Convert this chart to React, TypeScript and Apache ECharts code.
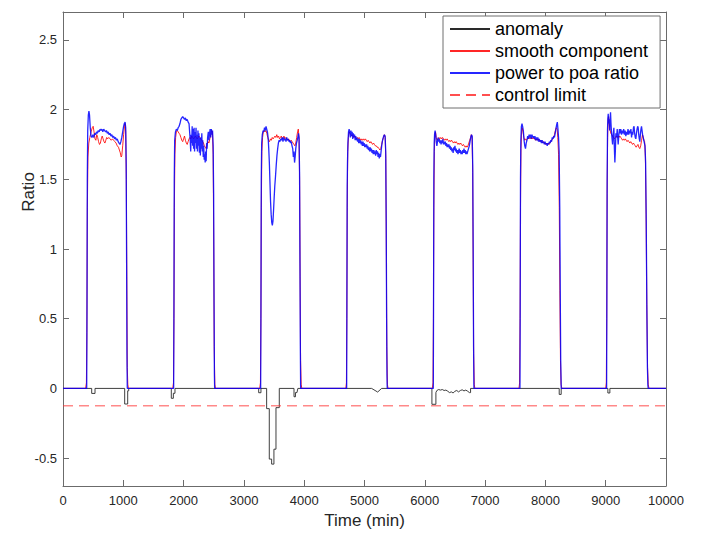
import React, { useEffect, useRef } from "react";
import * as echarts from "echarts";

type P = [number, number];

const FONT = "'Liberation Sans', Arial, Helvetica, sans-serif";

const seriesNames = ["anomaly", "smooth component", "power to poa ratio", "control limit"];
const yTickValues = [-0.5, 0, 0.5, 1, 1.5, 2, 2.5];
const xTickStep = 1000;
const xRange = [0, 10000];
const yRange = [-0.7, 2.7];
const controlLimitValue = -0.125;

// power to poa ratio (blue), one array per daytime block
const ratioDay1: P[] = [[393,0],[398,0.6],[403,1.5],[410,1.85],[420,1.96],[430,1.99],[440,1.96],[452,1.87],[465,1.81],[480,1.80],[495,1.82],[510,1.80],[525,1.83],[540,1.82],[555,1.84],[570,1.83],[585,1.85],[600,1.84],[615,1.86],[630,1.85],[645,1.86],[660,1.84],[675,1.86],[690,1.85],[705,1.84],[720,1.85],[735,1.83],[750,1.84],[765,1.82],[780,1.83],[795,1.81],[810,1.82],[825,1.80],[840,1.81],[855,1.79],[870,1.80],[885,1.78],[900,1.79],[915,1.77],[930,1.76],[945,1.75],[960,1.77],[975,1.80],[990,1.84],[1005,1.88],[1017,1.90],[1030,1.91],[1040,1.87],[1048,1.60],[1055,0.9],[1061,0.25],[1066,0]];
const ratioDay2: P[] = [[1835,0],[1840,0.6],[1845,1.5],[1852,1.78],[1865,1.84],[1880,1.86],[1895,1.85],[1910,1.87],[1925,1.88],[1940,1.90],[1955,1.93],[1970,1.94],[1985,1.95],[2000,1.94],[2015,1.93],[2030,1.94],[2045,1.92],[2060,1.93],[2075,1.91],[2090,1.90],[2100,1.84],[2110,1.78],[2118,1.70],[2126,1.82],[2134,1.76],[2142,1.88],[2150,1.74],[2158,1.86],[2166,1.72],[2174,1.87],[2182,1.70],[2190,1.84],[2198,1.76],[2206,1.87],[2214,1.72],[2222,1.82],[2230,1.70],[2238,1.85],[2246,1.74],[2254,1.83],[2262,1.69],[2270,1.80],[2278,1.67],[2286,1.80],[2294,1.72],[2302,1.83],[2310,1.70],[2318,1.78],[2326,1.66],[2334,1.74],[2342,1.64],[2350,1.68],[2358,1.62],[2366,1.70],[2374,1.63],[2382,1.76],[2390,1.72],[2398,1.80],[2410,1.84],[2420,1.78],[2430,1.83],[2440,1.86],[2450,1.80],[2460,1.86],[2470,1.82],[2480,1.85],[2490,1.74],[2498,1.40],[2505,0.6],[2511,0.1],[2515,0]];
const ratioDay3: P[] = [[3278,0],[3283,0.6],[3288,1.5],[3295,1.76],[3305,1.82],[3318,1.85],[3330,1.84],[3342,1.87],[3355,1.85],[3367,1.88],[3378,1.86],[3390,1.84],[3402,1.80],[3412,1.72],[3422,1.62],[3432,1.48],[3442,1.34],[3452,1.25],[3462,1.19],[3472,1.17],[3482,1.20],[3492,1.28],[3502,1.37],[3512,1.45],[3524,1.52],[3536,1.60],[3548,1.67],[3560,1.72],[3572,1.76],[3585,1.78],[3597,1.77],[3610,1.79],[3622,1.78],[3635,1.80],[3648,1.77],[3660,1.80],[3672,1.78],[3685,1.79],[3698,1.77],[3710,1.80],[3722,1.78],[3735,1.79],[3748,1.77],[3760,1.78],[3772,1.76],[3785,1.77],[3798,1.74],[3810,1.72],[3820,1.66],[3830,1.70],[3840,1.62],[3850,1.66],[3860,1.72],[3872,1.76],[3884,1.78],[3895,1.80],[3905,1.83],[3915,1.80],[3923,1.55],[3930,0.9],[3936,0.3],[3941,0]];
const ratioDay4: P[] = [[4704,0],[4708,0.6],[4713,1.45],[4718,1.62],[4725,1.76],[4735,1.84],[4745,1.86],[4755,1.84],[4765,1.80],[4775,1.85],[4785,1.81],[4795,1.84],[4805,1.79],[4815,1.83],[4825,1.80],[4835,1.82],[4845,1.78],[4855,1.81],[4865,1.78],[4875,1.80],[4885,1.77],[4895,1.79],[4905,1.76],[4915,1.79],[4925,1.76],[4935,1.78],[4945,1.75],[4955,1.77],[4965,1.74],[4975,1.77],[4985,1.74],[4995,1.76],[5005,1.73],[5015,1.75],[5025,1.73],[5035,1.75],[5045,1.72],[5055,1.74],[5065,1.71],[5075,1.73],[5085,1.70],[5095,1.73],[5105,1.70],[5115,1.72],[5125,1.69],[5135,1.71],[5145,1.68],[5155,1.71],[5165,1.68],[5175,1.70],[5185,1.67],[5195,1.71],[5205,1.68],[5215,1.70],[5225,1.66],[5235,1.69],[5245,1.65],[5255,1.68],[5265,1.66],[5275,1.70],[5285,1.74],[5295,1.77],[5305,1.79],[5318,1.81],[5330,1.82],[5342,1.81],[5352,1.70],[5360,1.20],[5367,0.5],[5373,0.1],[5377,0]];
const ratioDay5: P[] = [[6141,0],[6145,0.6],[6150,1.5],[6156,1.76],[6163,1.83],[6171,1.85],[6180,1.82],[6190,1.77],[6200,1.74],[6210,1.77],[6220,1.80],[6230,1.77],[6240,1.79],[6250,1.76],[6260,1.78],[6270,1.75],[6280,1.78],[6290,1.76],[6300,1.79],[6310,1.75],[6320,1.77],[6330,1.75],[6340,1.77],[6350,1.74],[6360,1.76],[6370,1.73],[6380,1.75],[6390,1.73],[6400,1.75],[6410,1.72],[6420,1.74],[6430,1.71],[6440,1.73],[6450,1.70],[6460,1.72],[6470,1.69],[6480,1.73],[6490,1.71],[6500,1.74],[6510,1.70],[6520,1.72],[6530,1.69],[6540,1.71],[6550,1.68],[6560,1.70],[6570,1.72],[6580,1.69],[6590,1.71],[6600,1.68],[6610,1.70],[6620,1.68],[6630,1.71],[6640,1.69],[6650,1.72],[6660,1.69],[6670,1.71],[6680,1.68],[6690,1.70],[6700,1.68],[6712,1.70],[6725,1.72],[6738,1.74],[6750,1.77],[6762,1.80],[6774,1.82],[6786,1.81],[6795,1.60],[6802,1.0],[6809,0.3],[6815,0]];
const ratioDay6: P[] = [[7578,0],[7582,0.6],[7587,1.5],[7593,1.78],[7602,1.88],[7612,1.90],[7622,1.88],[7634,1.85],[7646,1.78],[7658,1.74],[7670,1.72],[7682,1.76],[7694,1.78],[7706,1.81],[7718,1.79],[7730,1.82],[7742,1.80],[7754,1.82],[7766,1.79],[7778,1.82],[7790,1.80],[7802,1.81],[7814,1.79],[7826,1.81],[7838,1.78],[7850,1.80],[7862,1.78],[7874,1.80],[7886,1.77],[7898,1.79],[7910,1.77],[7922,1.78],[7934,1.76],[7946,1.78],[7958,1.76],[7970,1.77],[7982,1.75],[7994,1.77],[8006,1.75],[8018,1.76],[8030,1.74],[8042,1.76],[8054,1.75],[8066,1.77],[8078,1.76],[8090,1.78],[8102,1.77],[8114,1.80],[8126,1.79],[8138,1.81],[8150,1.80],[8162,1.83],[8174,1.86],[8186,1.89],[8198,1.91],[8208,1.86],[8218,1.80],[8228,1.70],[8238,1.30],[8246,0.7],[8254,0.2],[8262,0]];
const ratioDay7: P[] = [[9015,0],[9019,0.6],[9024,1.5],[9030,1.85],[9036,1.94],[9042,1.97],[9050,1.90],[9058,1.93],[9066,1.85],[9074,1.94],[9080,1.98],[9088,1.90],[9097,1.83],[9106,1.79],[9114,1.75],[9124,1.82],[9136,1.87],[9144,1.72],[9152,1.62],[9160,1.70],[9169,1.83],[9180,1.80],[9191,1.86],[9199,1.80],[9207,1.75],[9218,1.82],[9228,1.86],[9238,1.83],[9250,1.86],[9262,1.82],[9274,1.85],[9286,1.83],[9298,1.86],[9310,1.82],[9322,1.85],[9334,1.81],[9346,1.84],[9358,1.82],[9370,1.86],[9382,1.82],[9394,1.85],[9406,1.83],[9418,1.86],[9429,1.80],[9440,1.84],[9450,1.82],[9460,1.87],[9470,1.88],[9480,1.83],[9490,1.80],[9500,1.79],[9510,1.83],[9520,1.86],[9530,1.88],[9539,1.87],[9548,1.82],[9557,1.79],[9566,1.77],[9575,1.82],[9585,1.86],[9594,1.88],[9603,1.85],[9612,1.82],[9622,1.80],[9632,1.78],[9642,1.76],[9652,1.74],[9662,1.62],[9672,1.20],[9682,0.6],[9692,0.15],[9700,0.02],[9705,0]];

// smooth component (red)
const smoothDay1: P[] = [[375,0],[388,0.04],[396,0.4],[404,1.3],[414,1.66],[428,1.76],[445,1.80],[465,1.84],[485,1.87],[500,1.88],[515,1.84],[530,1.79],[545,1.78],[560,1.82],[575,1.80],[590,1.77],[605,1.75],[620,1.76],[635,1.79],[650,1.81],[665,1.79],[680,1.77],[695,1.76],[710,1.78],[725,1.80],[740,1.79],[760,1.80],[780,1.79],[800,1.78],[820,1.79],[840,1.78],[860,1.77],[880,1.76],[900,1.74],[920,1.73],[935,1.71],[950,1.69],[965,1.66],[975,1.67],[990,1.74],[1005,1.82],[1020,1.88],[1030,1.90],[1040,1.84],[1050,1.50],[1058,0.8],[1066,0.15],[1075,0.03],[1085,0]];
const smoothDay2: P[] = [[1820,0],[1832,0.04],[1840,0.5],[1847,1.3],[1856,1.68],[1868,1.80],[1880,1.84],[1895,1.85],[1910,1.84],[1925,1.83],[1940,1.82],[1955,1.80],[1970,1.78],[1985,1.77],[2000,1.79],[2015,1.81],[2030,1.78],[2045,1.76],[2060,1.75],[2075,1.77],[2090,1.79],[2105,1.80],[2120,1.79],[2135,1.81],[2150,1.80],[2165,1.79],[2180,1.80],[2195,1.81],[2210,1.80],[2225,1.79],[2240,1.80],[2255,1.81],[2270,1.80],[2285,1.79],[2300,1.78],[2315,1.77],[2330,1.76],[2345,1.74],[2360,1.73],[2375,1.72],[2390,1.75],[2405,1.77],[2420,1.76],[2435,1.79],[2450,1.82],[2465,1.85],[2478,1.84],[2490,1.68],[2500,1.0],[2508,0.3],[2518,0.03],[2528,0]];
const smoothDay3: P[] = [[3262,0],[3274,0.04],[3282,0.5],[3289,1.3],[3298,1.70],[3310,1.80],[3322,1.84],[3335,1.85],[3350,1.84],[3365,1.85],[3380,1.83],[3395,1.80],[3410,1.78],[3425,1.77],[3440,1.79],[3455,1.78],[3470,1.80],[3485,1.79],[3500,1.80],[3515,1.81],[3530,1.80],[3545,1.82],[3560,1.80],[3575,1.81],[3590,1.79],[3605,1.80],[3620,1.81],[3635,1.79],[3650,1.80],[3665,1.81],[3680,1.79],[3695,1.80],[3710,1.79],[3725,1.78],[3740,1.79],[3755,1.78],[3770,1.77],[3785,1.78],[3800,1.77],[3815,1.76],[3830,1.75],[3845,1.74],[3860,1.76],[3875,1.80],[3890,1.84],[3902,1.86],[3914,1.80],[3924,1.50],[3932,0.8],[3940,0.2],[3950,0.03],[3960,0]];
const smoothDay4: P[] = [[4690,0],[4700,0.04],[4707,0.5],[4714,1.3],[4722,1.70],[4733,1.80],[4745,1.84],[4760,1.83],[4775,1.82],[4790,1.81],[4805,1.82],[4820,1.80],[4835,1.81],[4850,1.80],[4865,1.79],[4880,1.80],[4895,1.79],[4910,1.80],[4925,1.79],[4940,1.78],[4955,1.79],[4970,1.78],[4985,1.79],[5000,1.78],[5015,1.79],[5030,1.78],[5045,1.77],[5060,1.78],[5075,1.77],[5090,1.76],[5105,1.77],[5120,1.76],[5135,1.75],[5150,1.76],[5165,1.75],[5180,1.74],[5195,1.74],[5210,1.73],[5225,1.73],[5240,1.72],[5255,1.71],[5270,1.72],[5285,1.75],[5300,1.78],[5315,1.80],[5330,1.82],[5343,1.80],[5353,1.65],[5362,1.0],[5370,0.3],[5380,0.03],[5390,0]];
const smoothDay5: P[] = [[6125,0],[6136,0.04],[6143,0.5],[6150,1.3],[6158,1.70],[6168,1.82],[6178,1.84],[6190,1.80],[6205,1.78],[6220,1.79],[6235,1.80],[6250,1.79],[6265,1.80],[6280,1.79],[6295,1.80],[6310,1.79],[6325,1.78],[6340,1.79],[6355,1.78],[6370,1.79],[6385,1.78],[6400,1.77],[6415,1.78],[6430,1.77],[6445,1.78],[6460,1.77],[6475,1.76],[6490,1.77],[6505,1.76],[6520,1.77],[6535,1.76],[6550,1.75],[6565,1.76],[6580,1.75],[6595,1.76],[6610,1.75],[6625,1.74],[6640,1.75],[6655,1.74],[6670,1.73],[6685,1.74],[6700,1.73],[6715,1.74],[6730,1.76],[6745,1.78],[6760,1.80],[6772,1.82],[6784,1.80],[6794,1.55],[6802,0.9],[6810,0.25],[6820,0.03],[6830,0]];
const smoothDay6: P[] = [[7562,0],[7572,0.04],[7580,0.5],[7587,1.3],[7595,1.72],[7605,1.84],[7615,1.87],[7628,1.84],[7642,1.80],[7656,1.78],[7670,1.79],[7685,1.78],[7700,1.79],[7715,1.80],[7730,1.79],[7745,1.80],[7760,1.79],[7775,1.80],[7790,1.79],[7805,1.80],[7820,1.79],[7835,1.78],[7850,1.79],[7865,1.78],[7880,1.79],[7895,1.78],[7910,1.77],[7925,1.78],[7940,1.77],[7955,1.76],[7970,1.77],[7985,1.76],[8000,1.75],[8015,1.76],[8030,1.75],[8045,1.76],[8060,1.75],[8075,1.76],[8090,1.77],[8105,1.78],[8120,1.79],[8135,1.80],[8150,1.82],[8165,1.85],[8180,1.87],[8194,1.86],[8206,1.80],[8218,1.68],[8230,1.30],[8240,0.7],[8250,0.2],[8260,0.03],[8272,0]];
const smoothDay7: P[] = [[9000,0],[9010,0.04],[9017,0.5],[9024,1.4],[9032,1.80],[9040,1.93],[9048,1.95],[9058,1.90],[9070,1.86],[9085,1.83],[9100,1.82],[9115,1.81],[9130,1.80],[9145,1.79],[9160,1.80],[9175,1.81],[9190,1.80],[9205,1.81],[9220,1.80],[9235,1.81],[9250,1.80],[9265,1.79],[9280,1.78],[9295,1.79],[9310,1.78],[9325,1.79],[9340,1.78],[9355,1.77],[9370,1.78],[9385,1.77],[9400,1.76],[9415,1.77],[9430,1.76],[9445,1.75],[9460,1.76],[9475,1.75],[9490,1.74],[9505,1.73],[9520,1.74],[9535,1.75],[9550,1.73],[9565,1.72],[9580,1.74],[9595,1.78],[9610,1.82],[9622,1.80],[9634,1.78],[9646,1.77],[9658,1.66],[9670,1.25],[9682,0.6],[9694,0.15],[9705,0.03],[9718,0]];

// anomaly (black, stepped)
const anomalyValues: P[] = [
  [0,0],
  [476,0],[476,-0.036],[531,-0.036],[531,0],
  [1023,0],[1023,-0.112],[1073,-0.112],[1073,-0.017],[1090,-0.017],[1090,0],
  [1796,0],[1796,-0.071],[1830,-0.071],[1830,-0.035],[1857,-0.035],[1857,0],
  [3245,0],[3245,-0.031],[3283,-0.031],[3283,0],
  [3377,0],[3377,-0.145],[3421,-0.145],[3421,-0.507],[3460,-0.507],[3460,-0.543],[3498,-0.543],[3498,-0.436],[3532,-0.436],[3532,-0.138],[3587,-0.138],[3587,0],
  [3831,0],[3831,-0.06],[3855,-0.06],[3855,-0.03],[3880,-0.03],[3895,0],
  [5118,0],[5218,-0.026],[5284,0],
  [6118,0],[6118,-0.114],[6184,-0.114],[6184,-0.03],[6200,-0.015],[6230,-0.008],[6260,-0.012],[6290,-0.008],[6320,-0.015],[6350,-0.012],[6380,-0.02],[6410,-0.03],[6440,-0.025],[6470,-0.033],[6500,-0.02],[6530,-0.015],[6560,-0.025],[6590,-0.015],[6620,-0.01],[6650,-0.018],[6680,-0.012],[6710,-0.02],[6740,-0.03],[6759,-0.03],[6759,0],
  [8229,0],[8229,-0.043],[8262,-0.043],[8262,0],
  [9036,0],[9036,-0.033],[9069,-0.033],[9069,0],
  [10000,0],
];

const ratioDays = [ratioDay1, ratioDay2, ratioDay3, ratioDay4, ratioDay5, ratioDay6, ratioDay7];
const smoothDays = [smoothDay1, smoothDay2, smoothDay3, smoothDay4, smoothDay5, smoothDay6, smoothDay7];

function withEnds(days: P[][]): P[] {
  const out: P[] = [[xRange[0], 0]];
  days.forEach((d) => d.forEach((p) => out.push(p)));
  out.push([xRange[1], 0]);
  return out;
}

const AXIS_COLOR = "#6b6b6b";
const TEXT_COLOR = "#262626";

export default function App() {
  const ref = useRef<HTMLDivElement>(null);
  useEffect(() => {
    if (!ref.current) return;
    const chart = echarts.init(ref.current, null, { renderer: "svg" });
    const axisCommon = {
      axisLine: { show: true, onZero: false, lineStyle: { color: AXIS_COLOR, width: 1 } },
      splitLine: { show: false },
    };
    chart.setOption({
      animation: false,
      backgroundColor: "#ffffff",
      textStyle: { fontFamily: FONT },
      grid: { left: 63, right: 35, top: 12, bottom: 47, containLabel: false, outerBoundsMode: "none" },
      xAxis: [
        {
          type: "value", min: xRange[0], max: xRange[1], interval: xTickStep, position: "bottom",
          ...axisCommon,
          axisTick: { show: true, inside: true, length: 6, lineStyle: { color: AXIS_COLOR } },
          axisLabel: { color: TEXT_COLOR, fontSize: 13, margin: 8, fontFamily: FONT, formatter: (v: number) => String(v) },
          name: "Time (min)", nameLocation: "middle", nameGap: 26,
          nameTextStyle: { fontSize: 17, color: TEXT_COLOR, fontFamily: FONT },
        },
        {
          type: "value", min: xRange[0], max: xRange[1], interval: xTickStep, position: "top",
          ...axisCommon,
          axisTick: { show: true, inside: true, length: 6, lineStyle: { color: AXIS_COLOR } },
          axisLabel: { show: false },
        },
      ],
      yAxis: [
        {
          type: "value", min: yRange[0], max: yRange[1], position: "left",
          ...axisCommon,
          axisTick: { show: true, inside: true, length: 6, customValues: yTickValues, lineStyle: { color: AXIS_COLOR } },
          axisLabel: { color: TEXT_COLOR, fontSize: 13, margin: 6, fontFamily: FONT, customValues: yTickValues },
        },
        {
          type: "value", min: yRange[0], max: yRange[1], position: "right",
          ...axisCommon,
          axisTick: { show: true, inside: true, length: 6, customValues: yTickValues, lineStyle: { color: AXIS_COLOR } },
          axisLabel: { show: false, customValues: yTickValues },
        },
      ],
      legend: {
        data: seriesNames,
        orient: "vertical",
        left: 443,
        top: 16,
        itemWidth: 40,
        itemHeight: 2,
        itemGap: 0,
        padding: [2, 12, 2, 6],
        borderColor: "#6e6e6e",
        borderWidth: 1,
        backgroundColor: "#ffffff",
        selectedMode: false,
        itemStyle: { opacity: 0, borderWidth: 0 },
        textStyle: { fontSize: 18, color: "#000000", lineHeight: 22, fontFamily: FONT },
      },
      graphic: [
        {
          type: "text", x: 28, y: 192, rotation: Math.PI / 2,
          style: { text: "Ratio", fontSize: 17, fontFamily: FONT, fill: TEXT_COLOR, align: "center", verticalAlign: "middle" },
        },
      ],
      series: [
        {
          name: seriesNames[0], type: "line", data: anomalyValues, symbol: "none", showSymbol: false,
          lineStyle: { color: "#2a2a2a", width: 0.9 }, itemStyle: { color: "#2a2a2a" }, z: 2,
        },
        {
          name: seriesNames[1], type: "line", data: withEnds(smoothDays), symbol: "none", showSymbol: false,
          lineStyle: { color: "#ff0000", width: 1, opacity: 0.85 }, itemStyle: { color: "#ff0000" }, z: 3,
        },
        {
          name: seriesNames[2], type: "line", data: withEnds(ratioDays), symbol: "none", showSymbol: false,
          lineStyle: { color: "#0000ff", width: 1.3, opacity: 0.85 }, itemStyle: { color: "#0000ff" }, z: 4,
        },
        {
          name: seriesNames[3], type: "line", data: [[xRange[0], controlLimitValue], [xRange[1], controlLimitValue]],
          symbol: "none", showSymbol: false,
          lineStyle: { color: "#ff3030", width: 1, type: [10, 6], opacity: 0.85 }, itemStyle: { color: "#ff3030" }, z: 5,
        },
      ],
    });
    return () => chart.dispose();
  }, []);
  return (
    <div
      ref={ref}
      style={{ position: "absolute", left: 0, top: 0, width: 701, height: 533, background: "#fff" }}
    />
  );
}
